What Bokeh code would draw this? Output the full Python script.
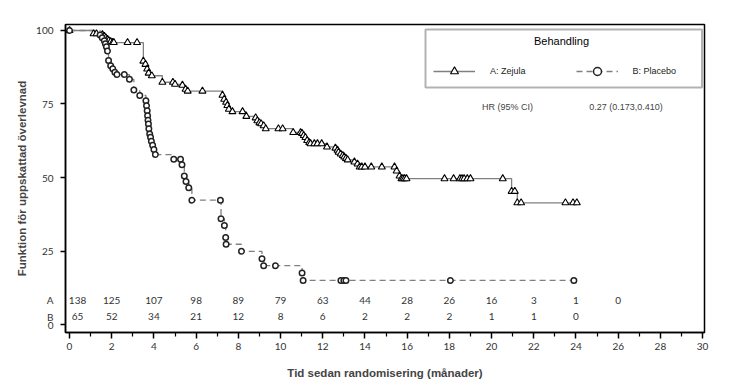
from bokeh.plotting import figure
from bokeh.models import Range1d, FixedTicker, Label, Legend, LegendItem, BoxAnnotation
from bokeh.core.properties import value
from bokeh.embed import file_html
from bokeh.resources import INLINE

# ---- data ----
zej_t = [0, 1.14, 1.28, 1.56, 1.65, 1.72, 1.8, 1.86, 1.95, 2.05, 2.1, 2.75, 3.2,
         3.5, 3.6, 3.68, 3.75, 3.9, 4.4, 4.9, 5.0, 5.35, 5.5, 5.6, 6.3,
         7.25, 7.33, 7.42, 7.48, 7.55, 7.72, 8.2, 8.38, 8.82, 8.9, 9.0, 9.08, 9.2, 9.3,
         9.9, 10.1, 10.6, 10.95, 11.02, 11.1, 11.18, 11.26, 11.36, 11.42, 11.6, 11.75, 11.95, 12.2,
         12.6, 12.7, 12.75, 12.85, 12.95, 13.02, 13.1, 13.18, 13.5, 13.65, 13.75, 13.85, 14.0, 14.3, 14.8, 15.4,
         15.5, 15.64, 15.73, 15.8, 15.88, 15.97, 17.77, 18.2, 18.5, 18.6, 18.7, 18.85, 19.0, 20.53,
         20.95, 21.1, 21.22, 21.4, 23.5, 23.86, 24.04]
zej_s = [100, 98.9, 98.9, 98.6, 98.0, 97.5, 97.0, 96.6, 96.2, 96.0, 95.9, 95.9, 95.9,
         89.6, 88.5, 86.9, 85.5, 84.6, 82.4, 82.4, 81.7, 81.4, 80.0, 79.4, 79.4,
         78.0, 76.6, 75.6, 74.5, 73.2, 72.4, 72.4, 70.8, 70.3, 69.3, 68.6, 68.3, 67.6, 66.6,
         66.6, 66.6, 65.3, 65.3, 65.0, 64.3, 63.6, 62.6, 61.9, 61.5, 61.5, 61.5, 61.5, 60.4,
         60.0, 59.3, 58.6, 58.0, 57.5, 57.0, 56.5, 56.0, 55.3, 54.6, 53.6, 53.6, 53.6, 53.6, 53.6, 53.6,
         52.2, 50.5, 49.6, 49.6, 49.6, 49.6, 49.6, 49.6, 49.6, 49.6, 49.6, 49.6, 49.6, 49.6,
         45.3, 45.3, 41.4, 41.4, 41.4, 41.4, 41.4]
pla_t = [0, 1.45, 1.55, 1.65, 1.7, 1.75, 1.8, 1.85, 1.95, 2.05, 2.15, 2.25, 2.6, 2.84, 3.05, 3.33,
         3.62, 3.65, 3.68, 3.7, 3.72, 3.74, 3.76, 3.8, 3.84, 3.88, 3.94, 4.0, 4.07,
         4.94, 5.26, 5.33, 5.44, 5.52, 5.65, 5.8, 7.15, 7.18, 7.34, 7.4, 7.42, 8.15,
         9.12, 9.2, 9.76, 11.02, 11.07, 12.86, 13.0, 13.1, 18.05, 23.9]
pla_s = [100, 98.5, 97.5, 96.5, 95.5, 94.5, 93.0, 89.8, 88.0, 87.0, 85.8, 85.0, 85.0, 83.4, 79.8, 77.9,
         76.1, 74.4, 72.7, 71.0, 69.5, 68.2, 66.6, 64.8, 63.7, 62.3, 61.0, 59.5, 57.8,
         56.2, 56.2, 54.3, 50.5, 48.6, 46.5, 42.3, 42.3, 36.0, 33.7, 29.6, 27.3, 24.9,
         22.4, 20.0, 20.0, 17.5, 15.0, 15.0, 15.0, 15.0, 15.0, 15.0]
risk_times = [0, 2, 4, 6, 8, 10, 12, 14, 16, 18, 20, 22, 24, 26]
risk_A = [138, 125, 107, 98, 89, 79, 63, 44, 28, 26, 16, 3, 1, 0]
risk_B = [65, 52, 34, 21, 12, 8, 6, 2, 2, 2, 1, 1, 0]
row_labels = ["A", "B"]
x_ticks = list(range(0, 31, 2))
x_minor = list(range(1, 30, 2))
y_ticks = [0, 25, 50, 75, 100]

# ---- geometry ----
X0, X1, Y0, Y1 = -0.19, 30.09, -2.72, 102.04
FL, FR, FT, FB = 65, 704, 24, 332
def dx(px):
    return X0 + (px - FL) / (FR - FL) * (X1 - X0)
def dy(py):
    return Y1 - (py - FT) / (FB - FT) * (Y1 - Y0)
ROW_Y = [8.2, 2.7]   # vertical positions of the number-at-risk rows

TICKFONT = "Lato"
ARIAL = "Liberation Sans"

p = figure(width=728, height=383, output_backend="svg", toolbar_location=None,
           x_range=Range1d(X0, X1), y_range=Range1d(Y0, Y1),
           min_border_left=65, min_border_right=24, min_border_top=24, min_border_bottom=51)
p.xgrid.visible = False
p.ygrid.visible = False
p.outline_line_color = "black"
p.outline_line_width = 1.5
p.background_fill_color = "white"
p.border_fill_color = "white"

# x axis
xa = p.xaxis[0]
xa.ticker = FixedTicker(ticks=x_ticks, minor_ticks=x_minor)
xa.axis_line_color = "black"
xa.axis_line_width = 1.5
xa.major_tick_out = 6
xa.major_tick_in = 0
xa.minor_tick_out = 4
xa.minor_tick_in = 0
xa.major_tick_line_width = 1.5
xa.minor_tick_line_width = 1.2
xa.major_label_text_font = TICKFONT
xa.major_label_text_font_size = "10px"
xa.major_label_text_color = "#333333"
xa.major_label_standoff = 4
xa.axis_label = "Tid sedan randomisering (månader)"
xa.axis_label_text_font = ARIAL
xa.axis_label_text_font_style = "bold"
xa.axis_label_text_font_size = "11.5px"
xa.axis_label_standoff = 14

# y axis: labelled values + at-risk row letters; tick marks only at the values
ya = p.yaxis[0]
ya.ticker = FixedTicker(ticks=y_ticks + ROW_Y, minor_ticks=y_ticks)
ya.major_label_overrides = {ROW_Y[0]: row_labels[0], ROW_Y[1]: row_labels[1]}
ya.axis_line_color = "black"
ya.axis_line_width = 1.5
ya.major_tick_out = 0
ya.major_tick_in = 0
ya.minor_tick_out = 5
ya.minor_tick_in = 0
ya.minor_tick_line_width = 1.5
ya.minor_tick_line_color = "black"
ya.major_label_text_font = TICKFONT
ya.major_label_text_font_size = "10px"
ya.major_label_text_color = "#333333"
ya.major_label_standoff = 7
ya.axis_label = "Funktion för uppskattad överlevnad"
ya.axis_label_text_font = ARIAL
ya.axis_label_text_font_style = "bold"
ya.axis_label_text_font_size = "11.5px"
ya.axis_label_standoff = 5

# curves
zl = p.step(zej_t, zej_s, mode="after", line_color="#808080", line_width=1.3)
pl = p.step(pla_t, pla_s, mode="after", line_color="#808080", line_width=1.3, line_dash="6 4")
zm = p.scatter(zej_t, zej_s, marker="triangle", size=7, fill_color="white",
               line_color="black", line_width=1.1)
pm = p.scatter(pla_t, pla_s, marker="circle", size=5.5, fill_color="white",
               line_color="#222222", line_width=1.5)

# number at risk
risk_x = [t if t > 0 else 0.38 for t in risk_times]
p.text(risk_x, [ROW_Y[0]] * len(risk_A), text=[str(v) for v in risk_A],
       text_align="center", text_baseline="middle", text_font=value(TICKFONT),
       text_font_size="10px", text_color="#333333")
p.text(risk_x[:len(risk_B)], [ROW_Y[1]] * len(risk_B), text=[str(v) for v in risk_B],
       text_align="center", text_baseline="middle", text_font=value(TICKFONT),
       text_font_size="10px", text_color="#333333")

# legend box
p.add_layout(BoxAnnotation(left=dx(425), right=dx(701.5), top=dy(29), bottom=dy(87),
                           fill_alpha=0, line_color="black", line_width=2))
p.add_layout(Label(x=dx(561), y=dy(40), text="Behandling", text_align="center",
                   text_baseline="middle", text_font=ARIAL, text_font_size="11px",
                   text_color="black"))
p.add_layout(Label(x=dx(507), y=dy(106), text="HR (95% CI)", text_align="center",
                   text_baseline="middle", text_font=ARIAL, text_font_size="9px",
                   text_color="#444444"))
p.add_layout(Label(x=dx(625.5), y=dy(106), text="0.27 (0.173,0.410)", text_align="center",
                   text_baseline="middle", text_font=ARIAL, text_font_size="9px",
                   text_color="#444444"))

leg = Legend(items=[LegendItem(label="A: Zejula", renderers=[zl, zm]),
                    LegendItem(label="B: Placebo", renderers=[pl, pm])],
             orientation="horizontal", location=(433 - FL, FB - 81),
             glyph_width=42, glyph_height=20, label_height=20, label_standoff=15,
             spacing=50, padding=0, margin=0,
             border_line_alpha=0, background_fill_alpha=0,
             label_text_font=ARIAL, label_text_font_size="9px", label_text_color="#222222")
p.add_layout(leg)

open("out.html", "w").write(file_html(p, INLINE))
